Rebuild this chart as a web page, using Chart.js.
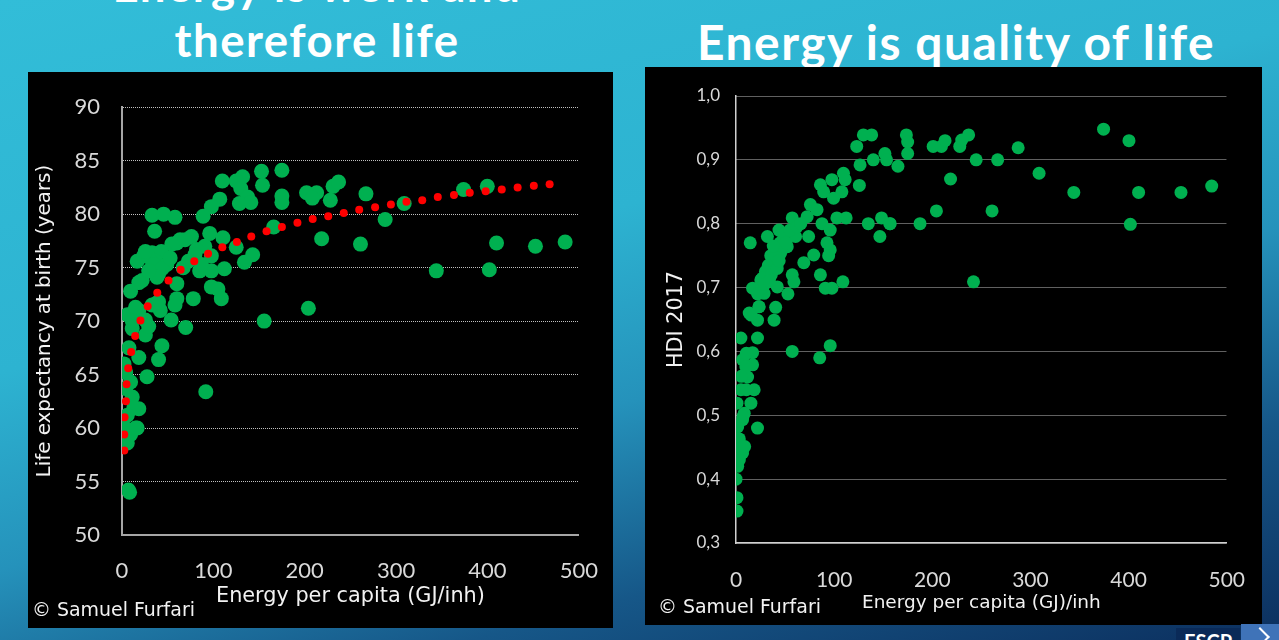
<!DOCTYPE html>
<html lang="en">
<head>
  <meta charset="UTF-8">
  <title>Energy and life</title>
  <script src="https://cdn.jsdelivr.net/npm/chart.js"></script>
  <style>
    html, body {
      margin: 0;
      padding: 0;
    }

    body {
      width: 1279px;
      height: 640px;
      overflow: hidden;
      position: relative;
      font-family: Lato, "Open Sans", sans-serif;
      background: linear-gradient(165deg, #32bdd8 0%, #2db3d1 38%, #2592bb 58%, #165788 78%, #0c2f5e 100%);
    }

    .title {
      position: absolute;
      color: #fff;
      font-weight: bold;
      white-space: nowrap;
      line-height: 1;
      transform: translateX(-50%);
      letter-spacing: 1.5px;
    }

    .panel {
      position: absolute;
      background: #000;
    }

    .credit {
      position: absolute;
      color: #f2f2f2;
      font-family: "DejaVu Sans", sans-serif;
      white-space: nowrap;
      line-height: 1;
    }

    #logo {
      position: absolute;
      left: 1176px;
      top: 628px;
      width: 64px;
      height: 12px;
      background: #0a2a58;
      overflow: hidden;
      color: #fff;
      font-weight: bold;
      font-size: 20px;
      line-height: 20px;
      padding: 3px 0 0 8px;
      box-sizing: border-box;
    }

    #arrow {
      position: absolute;
      left: 1241px;
      top: 624px;
      width: 38px;
      height: 16px;
      background: #3f73b8;
      overflow: hidden;
    }

    #arrow::after {
      content: "";
      position: absolute;
      left: 12px;
      top: 6px;
      width: 12px;
      height: 12px;
      border-top: 2px solid #fff;
      border-right: 2px solid #fff;
      transform: rotate(45deg);
    }
  </style>
</head>
<body>

<div class="title" id="t1" style="left:317px;">Energy is work and</div>
<div class="title" id="t2" data-w="285" style="left:317px;">therefore life</div>
<div class="title" id="t3" data-w="518" style="left:956px;">Energy is quality of life</div>

<div class="panel" style="left:28px; top:72px; width:585px; height:556px;">
  <canvas id="lifeChart" width="585" height="556"></canvas>
</div>
<div class="panel" style="left:645px; top:67px; width:617px; height:558px;">
  <canvas id="hdiChart" width="617" height="558"></canvas>
</div>

<div class="credit" id="c1">© Samuel Furfari</div>
<div class="credit" id="c2">© Samuel Furfari</div>

<div id="logo">ESCP</div>
<div id="arrow"></div>

<script>
    // life expectancy vs energy per capita: [GJ/inh, years]
    const lifePoints = [
        [152.7, 84.0], [132, 83.5], [109.8, 83.1], [125, 83.1], [153.8, 82.7], [130, 82.4],
        [137.5, 81.6], [107, 81.4], [128.5, 81.0], [141, 81.1], [97.8, 80.7], [88.8, 79.8],
        [32.9, 79.9], [45.5, 80.0], [58, 79.7], [35.7, 78.4], [96, 78.2], [76, 77.9],
        [110.5, 77.8], [63.5, 77.6], [54.5, 77.2], [125, 76.9], [90.6, 77.0], [81.6, 76.7],
        [143, 76.2], [97.8, 76.1], [134, 75.5], [16.6, 75.6], [23.8, 76.1], [32.9, 76.4],
        [43, 76.5], [36.5, 75.6], [49, 75.3], [67, 75.0], [85, 74.7], [97.8, 74.7],
        [112, 74.9], [40, 74.4], [22, 73.8], [18.4, 73.6], [60, 73.5], [9.4, 72.8],
        [97.8, 73.2], [105, 73.0], [108.7, 72.1], [78, 72.1], [60, 72.1], [36.5, 71.6],
        [41.9, 71.0], [58, 71.5], [18.4, 71.0], [5.8, 70.6], [155.6, 70.0], [53.8, 70.1],
        [69.7, 69.4], [11.2, 69.3], [25.6, 68.7], [29.2, 69.5], [43.7, 67.7], [7.6, 67.5],
        [18.4, 66.6], [40, 66.4], [2.2, 66.0], [4, 65.2], [27.4, 64.8], [91.7, 63.4],
        [4, 63.7], [11.2, 62.9], [18.4, 61.8], [0.4, 60.5], [14.8, 60.0], [5.8, 58.6],
        [8.3, 54.0], [7, 54.2],
        [29.2, 76.0], [34.7, 75.3], [43.7, 74.9], [38.3, 74.1], [29.2, 74.7], [52.7, 75.9],
        [25.6, 76.5], [60, 77.3], [69, 77.6], [79.8, 76.2], [72.6, 75.6], [87, 75.3],
        [14.8, 71.3], [11.2, 70.0], [25.6, 70.1], [32.9, 71.5], [40, 71.8],
        [1, 65.5], [9.4, 64.3], [13, 61.9], [5.8, 61.2], [0.4, 60.9], [9.4, 59.4],
        [4, 59.9], [16.6, 60.0],
        [175, 84.1], [175, 81.7], [175, 81.1], [166, 78.8], [204, 71.2], [202, 82.0],
        [213, 82.0], [208.3, 81.5], [231, 82.6], [237, 83.0], [228, 81.3], [267, 81.9],
        [288, 79.5], [308.8, 81.0], [373.8, 82.3], [399.8, 82.6], [218.5, 77.7], [261, 77.2],
        [409.9, 77.3], [452.5, 77.0], [485, 77.4], [344, 74.7], [402, 74.8]
    ];

    // red dotted trend curve, read dot by dot
    const lifeTrend = [
        [2.5, 57.9], [2.5, 59.4], [2.8, 61.0], [4.3, 62.5], [5, 64.1], [6.8, 65.6],
        [10, 67.1], [14.4, 68.6], [20.2, 70.05], [28.1, 71.4], [38.6, 72.66], [50.9, 73.8],
        [64.2, 74.8], [79.1, 75.6], [94.2, 76.3], [109.8, 76.9], [125.7, 77.4], [141.5, 77.9],
        [158.2, 78.4], [175, 78.8], [192, 79.2], [208.7, 79.55], [225.7, 79.8], [242.7, 80.1],
        [259.6, 80.4], [277, 80.65], [294.3, 80.9], [311.3, 81.15], [328.6, 81.3], [345.6, 81.6],
        [363.3, 81.8], [380.6, 82.0], [398, 82.15], [415.6, 82.3], [433, 82.5], [450.7, 82.65],
        [468, 82.8]
    ];

    // HDI 2017 vs energy per capita: [GJ/inh, HDI]
    const hdiPoints = [
        [129.8, 0.939], [138.2, 0.939], [123, 0.921], [126.4, 0.892], [139.9, 0.900], [151.7, 0.910],
        [153.4, 0.900], [165, 0.890], [173.6, 0.939], [174.9, 0.928], [174.9, 0.910], [125.7, 0.860],
        [86, 0.861], [97.7, 0.869], [109.5, 0.879], [111.2, 0.869], [107.9, 0.850], [89.3, 0.850],
        [99.4, 0.840], [75.8, 0.830], [82.6, 0.822], [57.3, 0.809], [72.5, 0.811], [87.6, 0.800],
        [96, 0.790], [102.8, 0.809], [112.2, 0.809], [134.8, 0.800], [148.3, 0.809], [156.7, 0.800],
        [146.6, 0.780], [43.8, 0.790], [32, 0.780], [14.5, 0.770], [60.7, 0.780], [74, 0.780],
        [92.7, 0.770], [96, 0.759], [94.4, 0.750], [52.2, 0.764], [45.5, 0.754], [35.4, 0.750],
        [38.8, 0.739], [32, 0.728], [25.3, 0.712], [16.9, 0.699], [28.6, 0.691], [42.1, 0.701],
        [57.3, 0.720], [59, 0.709], [52.9, 0.690], [69.1, 0.739], [79.2, 0.751], [86, 0.720],
        [91, 0.699], [97.7, 0.699], [108.9, 0.709], [23.6, 0.670], [40.4, 0.669], [13.5, 0.660],
        [21.9, 0.649], [38.8, 0.649], [21.9, 0.621], [5, 0.621], [16.9, 0.598], [6.7, 0.587],
        [16.9, 0.579], [18.5, 0.540], [5, 0.540], [15.2, 0.519], [1, 0.519], [6.7, 0.493],
        [21.9, 0.480], [1.7, 0.482], [3.4, 0.463], [6.7, 0.441], [1.7, 0.420], [0, 0.400],
        [1, 0.371], [1, 0.350], [57.3, 0.600], [85.3, 0.590], [96, 0.609], [10, 0.576],
        [11.8, 0.560], [8.4, 0.503], [3.4, 0.430], [5, 0.448], [10.5, 0.597], [5.5, 0.561],
        [10.5, 0.540], [8.8, 0.451], [7.1, 0.498], [15.5, 0.657], [23.3, 0.670],
        [33, 0.735], [37, 0.745], [41, 0.760], [45, 0.770], [48, 0.775], [30, 0.725],
        [27, 0.715], [36, 0.720], [50, 0.785], [55, 0.790], [42, 0.730], [26, 0.700],
        [22, 0.690], [40, 0.750], [44, 0.742], [47, 0.765], [29, 0.705], [34, 0.710],
        [38, 0.765], [51, 0.770], [62, 0.795], [66, 0.800],
        [200.9, 0.921], [209.3, 0.921], [213, 0.930], [228, 0.921], [230, 0.931], [237, 0.939],
        [244.7, 0.900], [266.6, 0.900], [287.5, 0.919], [308.8, 0.879], [344.2, 0.849], [374.5, 0.948],
        [400.4, 0.930], [410.2, 0.849], [453.4, 0.849], [484.7, 0.859], [260.9, 0.820], [401.8, 0.799],
        [242, 0.709], [218.6, 0.870], [204.2, 0.820], [187.5, 0.800], [157.1, 0.800]
    ];

    const energyTicks = ['0', '100', '200', '300', '400', '500'];
    const lifeTicks = ['50', '55', '60', '65', '70', '75', '80', '85', '90'];
    const hdiTicks = ['0,3', '0,4', '0,5', '0,6', '0,7', '0,8', '0,9', '1,0'];

    const green = '#00b050';
    const tickColor = '#d9d9d9';
    const gridColor = '#c0c0c0';
    const tickFont = 'Lato';
    const labelFont = 'DejaVu Sans';

    function toXY(list) {
        return list.map(p => ({ x: p[0], y: p[1] }));
    }

    // font size that makes a text span a given width
    const measureCtx = document.createElement('canvas').getContext('2d');
    function fitSize(text, family, weight, width) {
        measureCtx.font = weight + ' 100px "' + family + '"';
        return 100 * width / measureCtx.measureText(text).width;
    }

    // Lato with line-height 1: baseline sits about 0.887em below the box top
    function setBaseline(el, size, baseline) {
        el.style.top = (baseline - size * 0.887) + 'px';
    }

    function fitTitle(id) {
        const el = document.getElementById(id);
        const target = +el.dataset.w;
        let size = 44;
        el.style.fontSize = size + 'px';
        for (let k = 0; k < 3; k++) {
            size = size * target / el.getBoundingClientRect().width;
            el.style.fontSize = size + 'px';
        }
        return size;
    }

    const t2Size = fitTitle('t2');
    setBaseline(document.getElementById('t2'), t2Size, 57);
    const t1 = document.getElementById('t1');
    t1.style.fontSize = t2Size + 'px';
    setBaseline(t1, t2Size, 2);
    const t3Size = fitTitle('t3');
    setBaseline(document.getElementById('t3'), t3Size, 61);

    function placeCredit(id, left, midY) {
        const el = document.getElementById(id);
        const size = fitSize(el.textContent, labelFont, 'normal', 163);
        el.style.fontSize = size + 'px';
        el.style.left = left + 'px';
        el.style.top = (midY - size * 0.55) + 'px';
    }
    placeCredit('c1', 32, 610);
    placeCredit('c2', 658, 607);

    const lifeXTitle = 'Energy per capita (GJ/inh)';
    const lifeYTitle = 'Life expectancy at birth (years)';
    const hdiXTitle = 'Energy per capita (GJ)/inh';
    const hdiYTitle = 'HDI 2017';

    const lifeXSize = fitSize(lifeXTitle, labelFont, 'normal', 269);
    const lifeYSize = fitSize(lifeYTitle, labelFont, 'normal', 313);
    const hdiXSize = fitSize(hdiXTitle, labelFont, 'normal', 239);
    const hdiYSize = fitSize(hdiYTitle, labelFont, 'normal', 97);

    new Chart(document.getElementById('lifeChart'), {
        type: 'scatter',
        data: {
            datasets: [
                {
                    data: toXY(lifeTrend),
                    backgroundColor: '#ff0000',
                    borderWidth: 0,
                    pointRadius: 4
                },
                {
                    data: toXY(lifePoints),
                    backgroundColor: green,
                    borderWidth: 0,
                    pointRadius: 7.5
                }
            ]
        },
        options: {
            responsive: false,
            animation: false,
            events: [],
            layout: { padding: { top: 28, right: 30, left: 0, bottom: 0 } },
            plugins: { legend: { display: false }, tooltip: { enabled: false } },
            scales: {
                x: {
                    min: 0, max: 500,
                    afterFit: s => { s.height = 93; },
                    grid: { display: false },
                    border: { display: true, color: '#a6a6a6', width: 2 },
                    ticks: {
                        stepSize: 100, maxRotation: 0, autoSkip: false, padding: 15,
                        color: tickColor, font: { family: tickFont, size: 22 },
                        callback: (v, i) => energyTicks[i]
                    },
                    title: {
                        display: true, text: lifeXTitle,
                        color: '#f2f2f2', font: { family: labelFont, size: lifeXSize },
                        padding: { top: 0, bottom: 556 - 525 - lifeXSize * 0.6 }
                    }
                },
                y: {
                    min: 50, max: 90,
                    afterFit: s => { s.width = 94; },
                    grid: { color: gridColor, lineWidth: 1, drawTicks: false },
                    border: { display: true, color: '#a6a6a6', width: 2, dash: [1, 1] },
                    ticks: {
                        stepSize: 5, autoSkip: false, padding: 22,
                        color: tickColor, font: { family: tickFont, size: 22 },
                        callback: (v, i) => lifeTicks[i]
                    },
                    title: {
                        display: true, text: lifeYTitle,
                        color: '#f2f2f2', font: { family: labelFont, size: lifeYSize },
                        padding: { top: 17 - lifeYSize * 0.6, bottom: 0 }
                    }
                }
            }
        }
    });

    new Chart(document.getElementById('hdiChart'), {
        type: 'scatter',
        data: {
            datasets: [
                {
                    data: toXY(hdiPoints),
                    backgroundColor: green,
                    borderWidth: 0,
                    pointRadius: 6.5
                }
            ]
        },
        options: {
            responsive: false,
            animation: false,
            events: [],
            layout: { padding: { top: 29, right: 31, left: 0, bottom: 0 } },
            plugins: { legend: { display: false }, tooltip: { enabled: false } },
            scales: {
                x: {
                    min: 0, max: 500,
                    afterFit: s => { s.height = 82; },
                    grid: { display: false },
                    border: { display: true, color: '#d0d0d0', width: 1.5 },
                    ticks: {
                        stepSize: 100, maxRotation: 0, autoSkip: false, padding: 17,
                        color: tickColor, font: { family: tickFont, size: 21 },
                        callback: (v, i) => energyTicks[i]
                    },
                    title: {
                        display: true, text: hdiXTitle,
                        color: '#f2f2f2', font: { family: labelFont, size: hdiXSize },
                        padding: { top: 0, bottom: 558 - 536 - hdiXSize * 0.6 }
                    }
                },
                y: {
                    min: 0.3, max: 1.0,
                    afterFit: s => { s.width = 91; },
                    grid: { color: gridColor, lineWidth: 1, drawTicks: false },
                    border: { display: true, color: '#d0d0d0', width: 1.5, dash: [1, 1] },
                    ticks: {
                        stepSize: 0.1, autoSkip: false, padding: 16,
                        color: tickColor, font: { family: tickFont, size: 17 },
                        callback: (v, i) => hdiTicks[i]
                    },
                    title: {
                        display: true, text: hdiYTitle,
                        color: '#f2f2f2', font: { family: labelFont, size: hdiYSize },
                        padding: { top: 32 - hdiYSize * 0.6, bottom: 0 }
                    }
                }
            }
        }
    });
</script>
</body>
</html>
